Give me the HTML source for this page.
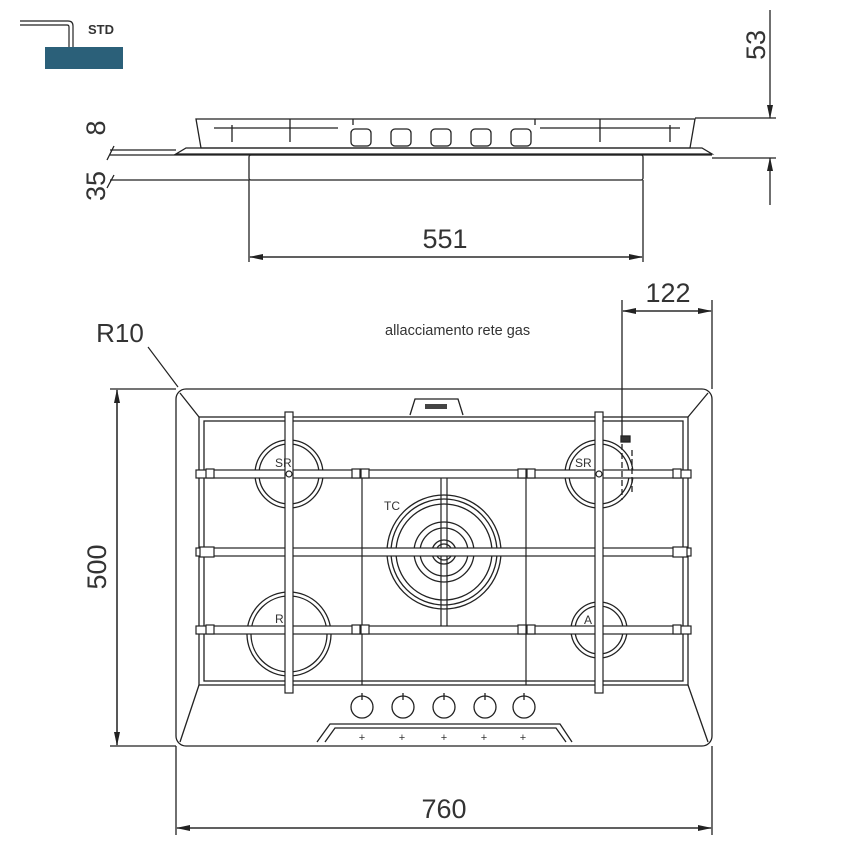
<!DOCTYPE html>
<html><head><style>
html,body{margin:0;padding:0;background:#fff;}
svg{display:block;}
text{font-family:"Liberation Sans",sans-serif;fill:#333;}
</style></head><body>
<svg width="850" height="850" viewBox="0 0 850 850" xmlns="http://www.w3.org/2000/svg">
<defs>
<marker id="a" markerWidth="14" markerHeight="8" refX="13" refY="4" orient="auto" markerUnits="userSpaceOnUse"><path d="M0,1 L14,4 L0,7 Z" fill="#222"/></marker>
</defs>
<g fill="none" stroke="#222" stroke-width="1.3">
<!-- STD icon -->
<path d="M20,21 H68 Q73,21 73,26 V47" stroke-width="1.2"/>
<path d="M20,25 H67 Q69,25 69,27 V47" stroke-width="1.2"/>
</g>
<rect x="45" y="47" width="78" height="22" fill="#2b6079"/>
<text x="88" y="34" font-size="13" font-weight="bold" fill="#111">STD</text>

<!-- side view -->
<g fill="none" stroke="#222" stroke-width="1.3">
<path d="M196,119 H695 L690,148 H201 Z"/>
<path d="M214,128 H338 M540,128 H680"/>
<path d="M290,119 V142 M600,119 V142"/>
<path d="M232,125 V142 M670,125 V142"/>
<path d="M353,119 V125 M535,119 V125"/>
<rect x="351" y="129" width="20" height="17" rx="4"/>
<rect x="391" y="129" width="20" height="17" rx="4"/>
<rect x="431" y="129" width="20" height="17" rx="4"/>
<rect x="471" y="129" width="20" height="17" rx="4"/>
<rect x="511" y="129" width="20" height="17" rx="4"/>
<path d="M186,148 H702 L712,154 H176 Z"/>
<path d="M176,155 H712"/>
<rect x="249" y="155" width="394" height="25" rx="2"/>
<path d="M110,150 H176 M110,155 H176 M110,180 H249"/>
<path d="M114,146 L107,160 M114,175 L107,188"/>
<path d="M249,180 V262 M643,180 V262"/>
<path d="M250,257 H642" marker-end="url(#a)"/>
<path d="M642,257 H250" marker-end="url(#a)"/>
<path d="M695,118 H776 M712,158 H776"/>
<path d="M770,10 V118" marker-end="url(#a)"/>
<path d="M770,205 V158" marker-end="url(#a)"/>
</g>
<text x="445" y="248" font-size="27" text-anchor="middle">551</text>
<text transform="translate(765,45) rotate(-90)" font-size="27" text-anchor="middle">53</text>
<text transform="translate(105,128) rotate(-90)" font-size="27" text-anchor="middle">8</text>
<text transform="translate(105,186) rotate(-90)" font-size="27" text-anchor="middle">35</text>

<!-- top view dimensions -->
<g fill="none" stroke="#222" stroke-width="1.3">
<path d="M110,389 H176 M110,746 H176"/>
<path d="M117,390 V745" marker-end="url(#a)"/>
<path d="M117,745 V390" marker-end="url(#a)"/>
<path d="M176,746 V835 M712,746 V835"/>
<path d="M177,828 H711" marker-end="url(#a)"/>
<path d="M711,828 H177" marker-end="url(#a)"/>
<path d="M622,300 V440 M712,300 V389"/>
<path d="M623,311 H711" marker-end="url(#a)"/>
<path d="M711,311 H623" marker-end="url(#a)"/>
<path d="M148,347 L178,387" stroke-width="1.2"/>
</g>
<text transform="translate(106,567) rotate(-90)" font-size="27" text-anchor="middle">500</text>
<text x="444" y="818" font-size="27" text-anchor="middle">760</text>
<text x="668" y="302" font-size="27" text-anchor="middle">122</text>
<text x="120" y="342" font-size="26" text-anchor="middle">R10</text>
<text x="385" y="335" font-size="14.5" font-family="Liberation Mono, monospace">allacciamento rete gas</text>

<!-- cooktop -->
<g fill="none" stroke="#222" stroke-width="1.3">
<rect x="176" y="389" width="536" height="357" rx="10"/>
<rect x="199" y="417" width="489" height="268"/>
<rect x="204" y="421" width="479" height="260"/>
<path d="M180,393 L199,417 M708,393 L688,417 M180,742 L199,685 M708,742 L688,685"/>
<path d="M410,415 L415,399 H458 L463,415"/>
<rect x="425" y="404" width="22" height="5" fill="#444" stroke="none"/>
<!-- control panel -->
<path d="M317,742 L330,724 H560 L572,742"/>
<path d="M325,742 L335,728 H556 L566,742"/>
<!-- burners -->
<circle cx="289" cy="474" r="34"/><circle cx="289" cy="474" r="30"/>
<circle cx="599" cy="474" r="34"/><circle cx="599" cy="474" r="30"/>
<circle cx="289" cy="634" r="42"/><circle cx="289" cy="634" r="38"/>
<circle cx="599" cy="630" r="28"/><circle cx="599" cy="630" r="24"/>
<circle cx="444" cy="552" r="57"/><circle cx="444" cy="552" r="53"/><circle cx="444" cy="552" r="48"/>
<circle cx="444" cy="552" r="30"/><circle cx="444" cy="552" r="24"/>
<circle cx="444" cy="552" r="12"/><circle cx="444" cy="552" r="8"/>
<!-- grate -->
<g stroke-width="1.2">
<rect x="196" y="470" width="495" height="8" fill="#fff"/>
<rect x="196" y="548" width="495" height="8" fill="#fff"/>
<rect x="196" y="626" width="495" height="8" fill="#fff"/>
<rect x="285" y="412" width="8" height="281" fill="#fff"/>
<rect x="595" y="412" width="8" height="281" fill="#fff"/>
<path d="M362,478 V685 M526,478 V685 M441,478 V548 M447,478 V548 M441,556 V626 M447,556 V626"/>
<circle cx="289" cy="474" r="3" fill="#fff"/><circle cx="599" cy="474" r="3" fill="#fff"/>
<rect x="352" y="469" width="8" height="9" fill="#fff"/><rect x="361" y="469" width="8" height="9" fill="#fff"/>
<rect x="518" y="469" width="8" height="9" fill="#fff"/><rect x="527" y="469" width="8" height="9" fill="#fff"/>
<rect x="352" y="625" width="8" height="9" fill="#fff"/><rect x="361" y="625" width="8" height="9" fill="#fff"/>
<rect x="518" y="625" width="8" height="9" fill="#fff"/><rect x="527" y="625" width="8" height="9" fill="#fff"/>
<rect x="206" y="469" width="8" height="9" fill="#fff"/><rect x="673" y="469" width="8" height="9" fill="#fff"/>
<rect x="206" y="625" width="8" height="9" fill="#fff"/><rect x="673" y="625" width="8" height="9" fill="#fff"/>
<rect x="200" y="547" width="14" height="10" fill="#fff"/><rect x="673" y="547" width="14" height="10" fill="#fff"/>
</g>
<!-- gas connection -->
<rect x="621" y="436" width="9" height="6" fill="#333"/>
<path d="M622,444 V500 M632,450 V492" stroke-dasharray="6,3"/>
<!-- knobs -->
<g>
<circle cx="362" cy="707" r="11"/><circle cx="403" cy="707" r="11"/><circle cx="444" cy="707" r="11"/><circle cx="485" cy="707" r="11"/><circle cx="524" cy="707" r="11"/>
<path d="M362,693 V700 M403,693 V700 M444,693 V700 M485,693 V700 M524,693 V700"/>
</g>
</g>
<g fill="#333" font-size="11" text-anchor="middle">
<text x="362" y="741">+</text><text x="402" y="741">+</text><text x="444" y="741">+</text><text x="484" y="741">+</text><text x="523" y="741">+</text>
</g>
<text x="275" y="467" font-size="12">SR</text>
<text x="575" y="467" font-size="12">SR</text>
<text x="384" y="510" font-size="12">TC</text>
<text x="275" y="623" font-size="12">R</text>
<text x="584" y="624" font-size="12">A</text>
</svg>
</body></html>
